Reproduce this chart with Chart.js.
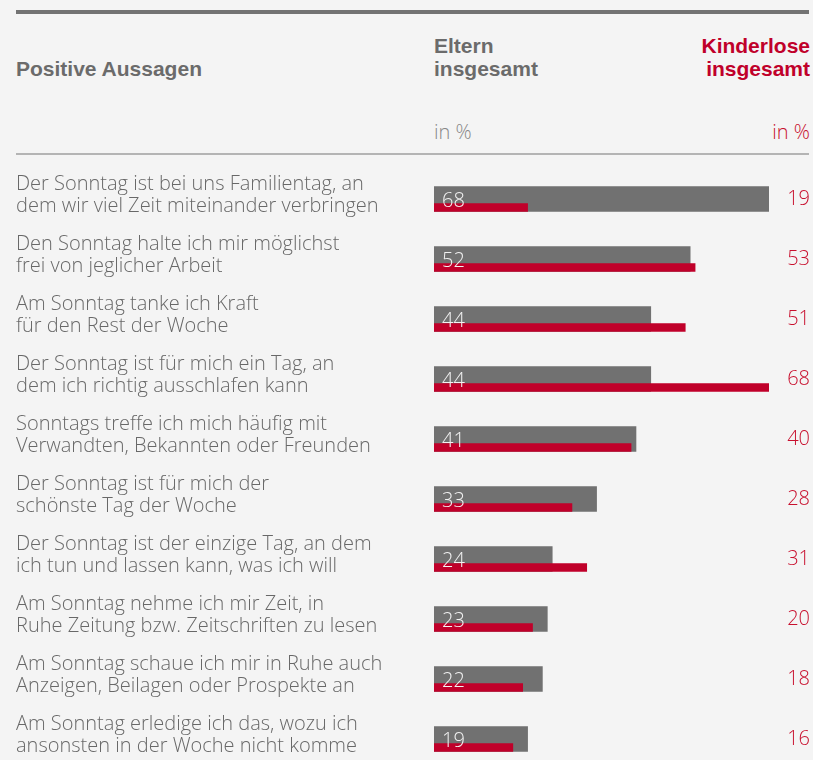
<!DOCTYPE html>
<html>
<head>
<meta charset="utf-8">
<script src="https://cdn.jsdelivr.net/npm/chart.js@4"></script>
<style>
  html, body { margin: 0; padding: 0; background: #f4f4f4; overflow: hidden; }
  #wrap { position: relative; width: 813px; height: 760px; }
  #chartBox { position: absolute; left: 0; top: 0; width: 813px; height: 760px; }
  .hdr { position: absolute; white-space: nowrap; }
  .rule1 { position: absolute; left: 16px; top: 10px; width: 793px; height: 4px; background: #737373; }
  .rule2 { position: absolute; left: 16px; top: 153px; width: 793px; height: 2px; background: #b4b4b4; }
  .bold { font-family: "Liberation Sans", Arial, sans-serif; font-weight: 700; font-size: 21px; line-height: 23px; color: #6b6b6b; }
  .red { color: #c0002a; }
  .unit { font-family: "Open Sans", sans-serif; font-weight: 300; font-size: 20px; line-height: 22px; color: #888888; }
</style>
</head>
<body>
<div id="wrap">
  <div class="rule1"></div>
  <div class="hdr bold" style="left:16px; top:57px;">Positive Aussagen</div>
  <div class="hdr bold" style="left:434px; top:34px;">Eltern<br>insgesamt</div>
  <div class="hdr bold red" style="right:3px; top:34px; text-align:right;">Kinderlose<br>insgesamt</div>
  <div class="hdr unit" style="left:434px; top:121px;">in %</div>
  <div class="hdr unit" style="right:3px; top:121px; text-align:right; color:#c8102e;">in %</div>
  <div class="rule2"></div>
  <div id="chartBox"><canvas id="c"></canvas></div>
</div>
<script>
const categories = [
  ["Der Sonntag ist bei uns Familientag, an", "dem wir viel Zeit miteinander verbringen"],
  ["Den Sonntag halte ich mir möglichst", "frei von jeglicher Arbeit"],
  ["Am Sonntag tanke ich Kraft", "für den Rest der Woche"],
  ["Der Sonntag ist für mich ein Tag, an", "dem ich richtig ausschlafen kann"],
  ["Sonntags treffe ich mich häufig mit", "Verwandten, Bekannten oder Freunden"],
  ["Der Sonntag ist für mich der", "schönste Tag der Woche"],
  ["Der Sonntag ist der einzige Tag, an dem", "ich tun und lassen kann, was ich will"],
  ["Am Sonntag nehme ich mir Zeit, in", "Ruhe Zeitung bzw. Zeitschriften zu lesen"],
  ["Am Sonntag schaue ich mir in Ruhe auch", "Anzeigen, Beilagen oder Prospekte an"],
  ["Am Sonntag erledige ich das, wozu ich", "ansonsten in der Woche nicht komme"]
];
const eltern = [68, 52, 44, 44, 41, 33, 24, 23, 22, 19];
const kinderlose = [19, 53, 51, 68, 40, 28, 31, 20, 18, 16];

const GRAY = '#717171';
const RED = '#c0002a';
const ROW_PX = 60;
const GRAY_T = 25;
const RED_T = 8;
const redShift = (GRAY_T / 2 - RED_T / 2) / ROW_PX;
const FONT = '"Open Sans", Roboto, sans-serif';
const Y_MIN = -0.5, Y_MAX = 9.35;

const tickPositions = s => { s.ticks = categories.map((_, i) => ({ value: i })); };
const noPad = w => s => { s.width = w; s.paddingTop = 0; s.paddingBottom = 0; s.paddingLeft = 0; s.paddingRight = 0; };

const innerLabels = {
  id: 'innerLabels',
  afterDatasetsDraw(chart) {
    const meta = chart.getDatasetMeta(1);
    const ctx = chart.ctx;
    ctx.save();
    ctx.font = '300 20px ' + FONT;
    ctx.fillStyle = '#f2f2f2';
    ctx.textAlign = 'left';
    ctx.textBaseline = 'alphabetic';
    meta.data.forEach((bar, i) => {
      ctx.fillText(String(eltern[i]), bar.base + 8, bar.y + bar.height / 2 - 5);
    });
    ctx.restore();
  }
};

new Chart(document.getElementById('c'), {
  type: 'bar',
  data: {
    datasets: [
      {
        label: 'Kinderlose insgesamt',
        data: kinderlose.map((v, i) => ({ x: v, y: i + redShift })),
        backgroundColor: RED,
        barThickness: RED_T,
        grouped: false,
        order: 0
      },
      {
        label: 'Eltern insgesamt',
        data: eltern.map((v, i) => ({ x: v, y: i })),
        backgroundColor: GRAY,
        barThickness: GRAY_T,
        grouped: false,
        order: 1
      }
    ]
  },
  options: {
    indexAxis: 'y',
    responsive: true,
    maintainAspectRatio: false,
    animation: false,
    layout: { autoPadding: false, padding: { left: 16, right: 3, top: 169, bottom: 0 } },
    plugins: { legend: { display: false }, tooltip: { enabled: false } },
    scales: {
      x: { type: 'linear', min: 0, max: 68, display: false },
      y: {
        type: 'linear', position: 'left', reverse: true, min: Y_MIN, max: Y_MAX, bounds: 'data', offset: false,
        grid: { display: false, drawTicks: false }, border: { display: false },
        afterBuildTicks: tickPositions,
        afterFit: noPad(418),
        ticks: {
          crossAlign: 'far', padding: 0, labelOffset: -4,
          color: '#686868',
          font: { family: FONT, size: 20, weight: '300', lineHeight: 1.1 },
          callback: v => categories[v]
        }
      },
      y2: {
        type: 'linear', position: 'right', reverse: true, min: Y_MIN, max: Y_MAX, bounds: 'data', offset: false,
        grid: { display: false, drawTicks: false }, border: { display: false },
        afterBuildTicks: tickPositions,
        afterFit: noPad(41),
        ticks: {
          crossAlign: 'far', padding: 0,
          color: '#c8102e',
          font: { family: FONT, size: 20, weight: '300' },
          callback: v => String(kinderlose[v])
        }
      }
    }
  },
  plugins: [innerLabels]
});
</script>
</body>
</html>
